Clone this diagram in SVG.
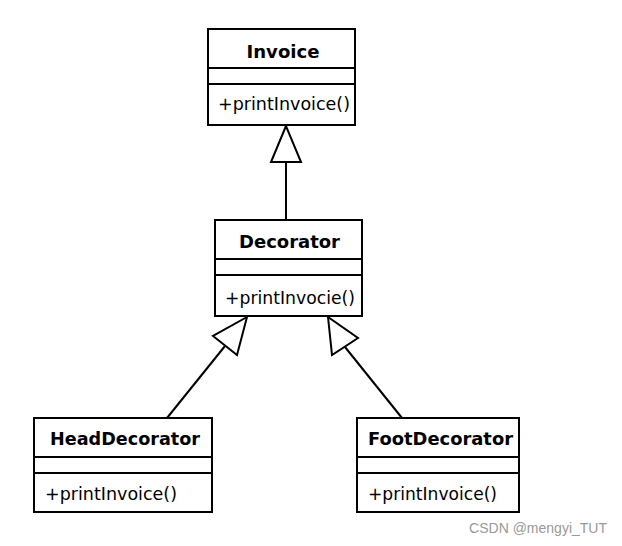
<svg xmlns="http://www.w3.org/2000/svg" width="622" height="546" viewBox="0 0 622 546">
<style>
.box{fill:#fff;stroke:#000;stroke-width:2}
.div{stroke:#000;stroke-width:2}
.t{font-family:"DejaVu Sans",Verdana,sans-serif;font-size:18px;font-weight:bold;text-anchor:middle;fill:#000}
.m{font-family:"DejaVu Sans",Verdana,sans-serif;font-size:18px;fill:#000}
.c{fill:none;stroke:#000;stroke-width:2}
.h{fill:#fff;stroke:#000;stroke-width:2;stroke-linejoin:miter}
</style>
<rect width="622" height="546" fill="#fff"/>
<g id="connectors">
<line class="c" x1="286" y1="220" x2="286" y2="162"/>
<polygon class="h" points="286,126 271,162 301,162"/>
<line class="c" x1="167" y1="418" x2="225" y2="346"/>
<polygon class="h" points="247,317 213,336 237,355"/>
<line class="c" x1="402" y1="418" x2="345" y2="347"/>
<polygon class="h" points="328,317 332,355 358,338"/>
</g>
<g id="invoice">
<rect class="box" x="208" y="29" width="147" height="96"/>
<line class="div" x1="208" y1="68" x2="355" y2="68"/>
<line class="div" x1="208" y1="84" x2="355" y2="84"/>
<text class="t" x="283" y="58" textLength="73" lengthAdjust="spacingAndGlyphs">Invoice</text>
<text class="m" x="218" y="110" textLength="132" lengthAdjust="spacingAndGlyphs">+printInvoice()</text>
</g>
<g id="decorator">
<rect class="box" x="215" y="220" width="147" height="96"/>
<line class="div" x1="215" y1="259" x2="362" y2="259"/>
<line class="div" x1="215" y1="275" x2="362" y2="275"/>
<text class="t" x="289.5" y="248" textLength="101" lengthAdjust="spacingAndGlyphs">Decorator</text>
<text class="m" x="225" y="304" textLength="130" lengthAdjust="spacingAndGlyphs">+printInvocie()</text>
</g>
<g id="headDecorator">
<rect class="box" x="34" y="418" width="178" height="94"/>
<line class="div" x1="34" y1="457" x2="212" y2="457"/>
<line class="div" x1="34" y1="473" x2="212" y2="473"/>
<text class="t" x="125" y="445" textLength="150" lengthAdjust="spacingAndGlyphs">HeadDecorator</text>
<text class="m" x="45" y="500" textLength="132" lengthAdjust="spacingAndGlyphs">+printInvoice()</text>
</g>
<g id="footDecorator">
<rect class="box" x="357" y="418" width="162" height="94"/>
<line class="div" x1="357" y1="457" x2="519" y2="457"/>
<line class="div" x1="357" y1="473" x2="519" y2="473"/>
<text class="t" x="440.5" y="445" textLength="145" lengthAdjust="spacingAndGlyphs">FootDecorator</text>
<text class="m" x="368" y="500" textLength="129" lengthAdjust="spacingAndGlyphs">+printInvoice()</text>
</g>
<text x="607" y="533" font-family="'Liberation Sans',Arial,sans-serif" font-size="14" fill="#999" text-anchor="end">CSDN @mengyi_TUT</text>
</svg>
